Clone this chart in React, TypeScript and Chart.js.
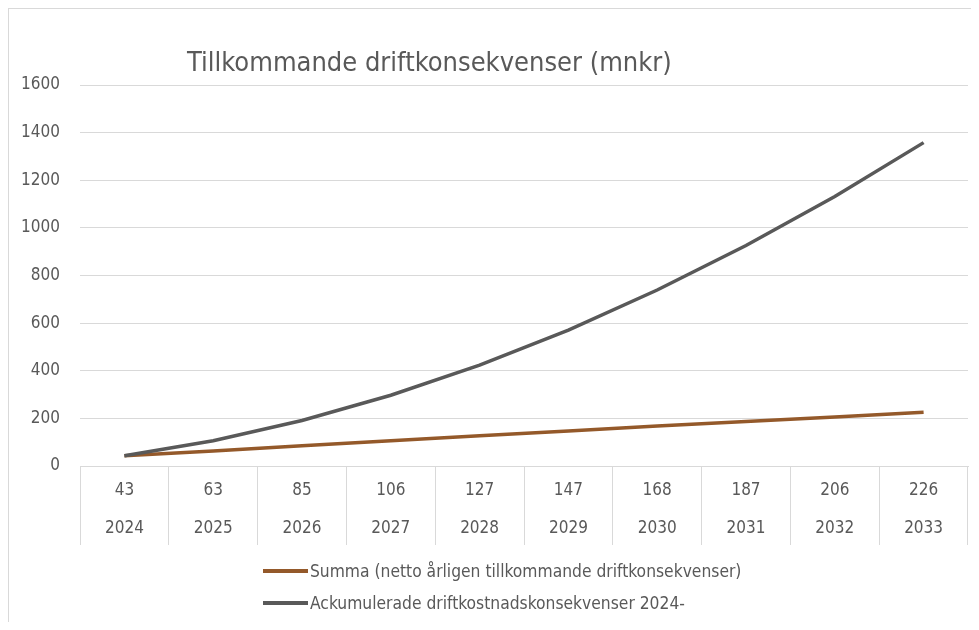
import React, { useEffect, useRef } from "react";
import { Chart, registerables } from "chart.js";

Chart.register(...registerables);

const years = ["2024", "2025", "2026", "2027", "2028", "2029", "2030", "2031", "2032", "2033"];
const annual = [43, 63, 85, 106, 127, 147, 168, 187, 206, 226];
const cumulative = [43, 106, 191, 297, 424, 571, 739, 926, 1132, 1358];
const yMin = 0;
const yMax = 1600;
const yStep = 200;

const titleText = "Tillkommande driftkonsekvenser (mnkr)";
const seriesNames = [
  "Summa (netto årligen tillkommande driftkonsekvenser)",
  "Ackumulerade driftkostnadskonsekvenser 2024-",
];
const seriesColors = ["#94592a", "#595959"];

const FONT = "'DejaVu Sans Condensed', 'Open Sans', sans-serif";
const TEXT = "#595959";
const GRID = "#d9d9d9";

export default function App() {
  const ref = useRef<HTMLCanvasElement | null>(null);

  useEffect(() => {
    if (!ref.current) return;
    const labels = years.map((y, i) => [String(annual[i]), y]);
    const chart = new Chart(ref.current, {
      type: "line",
      data: {
        labels,
        datasets: [
          {
            label: seriesNames[0],
            data: annual,
            borderColor: seriesColors[0],
            backgroundColor: seriesColors[0],
            borderWidth: 3.5,
            pointRadius: 0,
            tension: 0,
            order: 1,
          },
          {
            label: seriesNames[1],
            data: cumulative,
            borderColor: seriesColors[1],
            backgroundColor: seriesColors[1],
            borderWidth: 3.5,
            pointRadius: 0,
            tension: 0,
            order: 0,
          },
        ],
      },
      options: {
        animation: false,
        responsive: true,
        maintainAspectRatio: false,
        layout: { padding: { left: 0, right: 3, top: 76, bottom: 74 } },
        plugins: {
          legend: { display: false },
          title: { display: false },
          tooltip: { enabled: false },
        },
        scales: {
          x: {
            type: "category",
            offset: true,
            afterFit: (s: any) => {
              s.height = 82;
            },
            grid: {
              offset: true,
              drawOnChartArea: false,
              drawTicks: true,
              tickLength: 79,
              color: GRID,
              lineWidth: 1,
            },
            border: { display: true, color: GRID, width: 1 },
            ticks: {
              autoSkip: false,
              maxRotation: 0,
              minRotation: 0,
              padding: -73,
              color: TEXT,
              font: { family: FONT, size: 17, lineHeight: 38 / 17 },
            },
          },
          y: {
            min: yMin,
            max: yMax,
            afterFit: (s: any) => {
              s.width = 71;
            },
            grid: { color: GRID, lineWidth: 1, drawTicks: false },
            border: { display: false },
            ticks: {
              stepSize: yStep,
              padding: 20,
              color: TEXT,
              font: { family: FONT, size: 17 },
              callback: (v: any) => String(v),
            },
          },
        },
      },
    });
    return () => chart.destroy();
  }, []);

  return (
    <div
      style={{
        position: "relative",
        width: 963,
        height: 614,
        boxSizing: "border-box",
        borderLeft: `1px solid ${GRID}`,
        borderTop: `1px solid ${GRID}`,
        fontFamily: FONT,
        color: TEXT,
      }}
    >
      <div style={{ position: "absolute", left: 0, top: 0, width: 962, height: 613 }}>
        <canvas ref={ref} />
      </div>
      <div
        style={{
          position: "absolute",
          left: 178,
          top: 37,
          fontSize: 27,
          lineHeight: "32px",
          whiteSpace: "nowrap",
        }}
      >
        {titleText}
      </div>
      {seriesNames.map((name, i) => (
        <div
          key={name}
          style={{
            position: "absolute",
            left: 254,
            top: 551 + i * 32,
            height: 22,
            display: "flex",
            alignItems: "center",
            fontSize: 17.3,
            whiteSpace: "nowrap",
          }}
        >
          <span
            style={{
              display: "inline-block",
              width: 45,
              height: 4,
              background: seriesColors[i],
              marginRight: 2,
            }}
          />
          <span>{name}</span>
        </div>
      ))}
    </div>
  );
}
